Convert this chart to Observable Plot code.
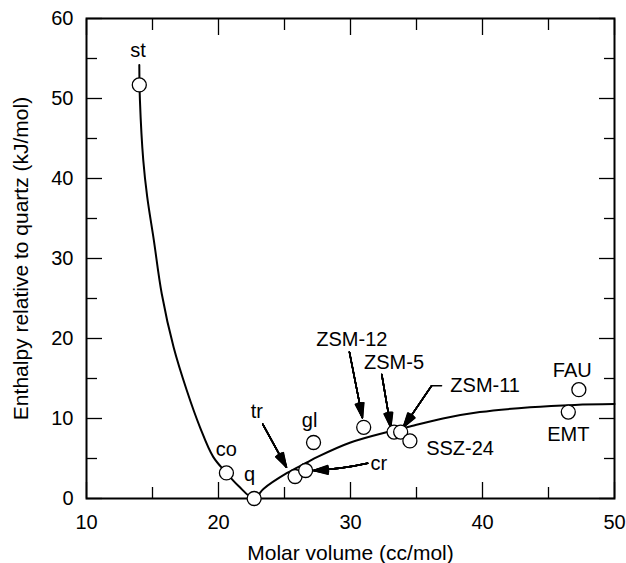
<!DOCTYPE html>
<html><head><meta charset="utf-8">
<script src="https://cdn.jsdelivr.net/npm/d3@7"></script>
<script src="https://cdn.jsdelivr.net/npm/@observablehq/plot@0.6"></script>
<style>body{margin:0;background:#fff}#chart{width:626px;height:563px}</style>
</head><body><div id="chart"></div>
<script>
// Silica polymorphs: molar volume (cc/mol) vs enthalpy relative to quartz (kJ/mol)
const phases      = ["st", "co", "q", "tr", "cr", "gl", "ZSM-12", "ZSM-5", "ZSM-11", "SSZ-24", "EMT", "FAU"];
const molarVolume = [14.0, 20.6, 22.7, 25.8, 26.6, 27.2, 31.0, 33.3, 33.8, 34.5, 46.5, 47.3];
const enthalpy    = [51.7, 3.2, 0.0, 2.75, 3.5, 7.0, 8.9, 8.3, 8.3, 7.2, 10.8, 13.6];

// fitted trend curve
const curveX = [14.0, 14.05, 14.3, 14.6, 15.1, 15.7, 16.6, 17.6, 18.6, 19.6, 20.6, 21.5, 22.7, 23.4, 25.2, 26.7, 27.5, 30.0, 33.0, 34.5, 37.0, 39.8, 43.6, 47.0, 50.0];
const curveY = [54.2, 49.7, 42.3, 37.7, 32.3, 25.6, 18.9, 13.5, 8.9, 5.2, 3.2, 1.6, 0.0, 1.2, 3.2, 4.5, 5.2, 7.0, 8.4, 9.0, 10.0, 10.8, 11.4, 11.7, 11.8];

// point labels
const labelText = ["st", "co", "q", "gl", "tr", "cr", "ZSM-12", "ZSM-5", "ZSM-11", "SSZ-24", "FAU", "EMT"];
const labelX    = [13.9, 20.6, 22.35, 26.9, 22.9, 32.15, 30.1, 33.3, 40.2, 38.3, 46.8, 46.5];
const labelY    = [56.0, 6.1, 3.0, 9.8, 10.9, 4.35, 19.9, 17.0, 14.1, 6.3, 16.0, 8.0];

// leader arrows
const arrowFor = ["tr", "cr", "ZSM-12", "ZSM-5", "ZSM-11"];
const arrowX1  = [23.35, 31.3, 29.92, 32.37, 36.15];
const arrowY1  = [9.3, 4.4, 18.3, 15.5, 14.1];
const arrowX2  = [25.15, 27.2, 30.9, 33.05, 34.0];
const arrowY2  = [3.9, 3.5, 10.1, 8.9, 8.9];
const arrowBend = [0, 5, 0, 0, 0];
const leaderX = [36.9, 36.15];
const leaderY = [14.1, 14.1];

// axes
const xMajor = [10, 20, 30, 40, 50];
const xMinor = [15, 25, 35, 45];
const yMajor = [0, 10, 20, 30, 40, 50, 60];
const yMinor = [5, 15, 25, 35, 45, 55];
const xTitle = "Molar volume (cc/mol)";
const yTitle = "Enthalpy relative to quartz (kJ/mol)";

const points = phases.map((p, i) => ({phase: p, x: molarVolume[i], y: enthalpy[i]}));
const curve = curveX.map((x, i) => ({x, y: curveY[i]}));
const labels = labelText.map((t, i) => ({t, x: labelX[i], y: labelY[i]}));
const arrows = arrowFor.map((a, i) => ({a, x1: arrowX1[i], y1: arrowY1[i], x2: arrowX2[i], y2: arrowY2[i], bend: arrowBend[i]}));
const leader = leaderX.map((x, i) => ({x, y: leaderY[i]}));

const font = "'Liberation Sans', Arial, Helvetica, sans-serif";
const none = () => "";

// stacked heads of growing angle give a filled arrowhead look
const arrowMarks = [];
for (const ang of [5, 10, 15, 20, 25, 30, 34]) {
  for (const b of [...new Set(arrowBend)]) {
    arrowMarks.push(Plot.arrow(arrows.filter(d => d.bend === b), {
      x1: "x1", y1: "y1", x2: "x2", y2: "y2", bend: b,
      headAngle: ang, headLength: 15, stroke: "black", strokeWidth: 1.5
    }));
  }
}

const chart = Plot.plot({
  width: 626, height: 563,
  marginLeft: 86, marginRight: 12, marginTop: 18, marginBottom: 65,
  x: {domain: [10, 50]},
  y: {domain: [0, 60]},
  style: {fontFamily: font, fontSize: "20px", background: "white", color: "black", overflow: "visible"},
  marks: [
    Plot.axisX({anchor: "bottom", ticks: xMajor, tickSize: -16, tickPadding: 32, tickFormat: d => d, label: null, fontSize: 20, strokeWidth: 1.3}),
    Plot.axisX({anchor: "bottom", ticks: xMinor, tickSize: -11, tickFormat: none, label: null, strokeWidth: 1.3}),
    Plot.axisX({anchor: "top", ticks: xMajor, tickSize: -16, tickFormat: none, label: null, strokeWidth: 1.3}),
    Plot.axisX({anchor: "top", ticks: xMinor, tickSize: -11, tickFormat: none, label: null, strokeWidth: 1.3}),
    Plot.axisY({anchor: "left", ticks: yMajor, tickSize: -16, tickPadding: 29, tickFormat: d => d, label: null, fontSize: 20, strokeWidth: 1.3}),
    Plot.axisY({anchor: "left", ticks: yMinor, tickSize: -11, tickFormat: none, label: null, strokeWidth: 1.3}),
    Plot.axisY({anchor: "right", ticks: yMajor, tickSize: -16, tickFormat: none, label: null, strokeWidth: 1.3}),
    Plot.axisY({anchor: "right", ticks: yMinor, tickSize: -11, tickFormat: none, label: null, strokeWidth: 1.3}),
    Plot.frame({stroke: "black", strokeWidth: 2}),
    Plot.line(curve, {x: "x", y: "y", curve: "catmull-rom", stroke: "black", strokeWidth: 2}),
    Plot.line(leader, {x: "x", y: "y", stroke: "black", strokeWidth: 1.5}),
    ...arrowMarks,
    Plot.dot(points, {x: "x", y: "y", r: 7, fill: "white", stroke: "black", strokeWidth: 1.3}),
    Plot.text(labels, {x: "x", y: "y", text: "t", fontSize: 20, lineAnchor: "middle", fill: "black"}),
    Plot.text([xTitle], {frameAnchor: "bottom", dy: 55, textAnchor: "middle", lineAnchor: "middle", fontSize: 21, fill: "black"}),
    Plot.text([yTitle], {frameAnchor: "left", dx: -65, rotate: -90, textAnchor: "middle", lineAnchor: "middle", fontSize: 21, fill: "black"})
  ]
});
document.getElementById("chart").append(chart);
</script>
</body></html>
